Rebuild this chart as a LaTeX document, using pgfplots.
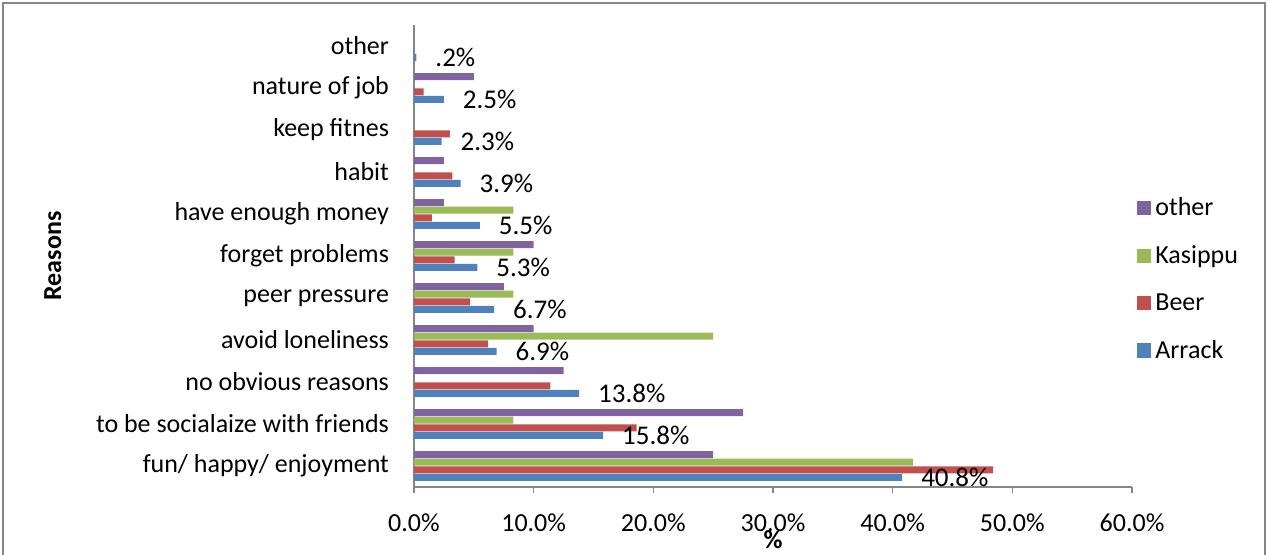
\documentclass[border=0pt]{standalone}
\usepackage{fontspec}
\setmainfont{Carlito}
\usepackage{pgfplots}
\pgfplotsset{compat=1.18}
\definecolor{cA}{HTML}{4F81BD}
\definecolor{cB}{HTML}{C0504D}
\definecolor{cK}{HTML}{9BBB59}
\definecolor{cO}{HTML}{8064A2}
\definecolor{axgray}{HTML}{868686}
\begin{document}
\begin{tikzpicture}
\useasboundingbox (0,0) rectangle (634pt,277pt);
\draw[axgray,line width=0.6pt] (1.5pt,-2pt) -- (1.5pt,275.5pt) -- (632.5pt,275.5pt) -- (632.5pt,-2pt);
\begin{axis}[
  at={(207pt,33.5pt)}, anchor=south west,
  scale only axis, width=359pt, height=231pt,
  xbar, bar width=3.5pt,
  xmin=0, xmax=60, ymin=-0.5, ymax=10.5,
  axis lines=left, axis line style={-, axgray, line width=0.6pt},
  every tick/.style={axgray, line width=0.6pt},
  tick align=outside,
  xtick={0,10,20,30,40,50,60},
  xticklabels={0.0\%,10.0\%,20.0\%,30.0\%,40.0\%,50.0\%,60.0\%},
  major tick length=3pt,
  ytick={0,1,2,3,4,5,6,7,8,9,10},
  yticklabels={fun/ happy/ enjoyment, to be socialaize with friends, no obvious reasons, avoid loneliness, peer pressure, forget problems, have enough money, habit, keep fitnes, nature of job, other},
  y tick style={draw=none},
  minor ytick={-0.5,0.5,...,10.5},
  minor y tick style={axgray},
  minor tick length=3pt,
  yticklabel style={anchor=east, xshift=-6pt, font=\fontsize{13}{15}\selectfont},
  xticklabel style={yshift=-7pt, font=\fontsize{13}{15}\selectfont},
  xlabel={\textbf{\%}},
  xlabel style={at={(axis description cs:0.5,-0.115)}, anchor=center, font=\fontsize{13}{15}\selectfont},
  ylabel={\textbf{Reasons}},
  ylabel style={at={(axis description cs:-0.503,0.5)}, anchor=center, font=\fontsize{13}{15}\selectfont},
  legend style={at={(axis description cs:0.998,0.645)}, anchor=north west, draw=none, fill=none,
    font=\fontsize{13}{15}\selectfont, row sep=9.5pt, cells={anchor=west},
    /tikz/every odd column/.append style={xshift=0pt}},
  reverse legend,
  legend image code/.code={\fill[#1] (0pt,-3.6pt) rectangle (7.2pt,3.6pt);},
  clip=false,
]
\addplot[fill=cA, draw=none, bar shift=-5.7pt,
  point meta=explicit symbolic, nodes near coords,
  every node near coord/.append style={anchor=west, xshift=6pt, text=black, font=\fontsize{13.5}{15}\selectfont}]
  coordinates {(40.8,0) [40.8\%] (15.8,1) [15.8\%] (13.8,2) [13.8\%] (6.9,3) [6.9\%] (6.7,4) [6.7\%] (5.3,5) [5.3\%] (5.5,6) [5.5\%] (3.9,7) [3.9\%] (2.3,8) [2.3\%] (2.5,9) [2.5\%] (0.2,10) [.2\%]};
\addlegendentry{Arrack}
\addplot[fill=cB, draw=none, bar shift=-1.9pt]
  coordinates {(48.4,0) (18.6,1) (11.4,2) (6.2,3) (4.7,4) (3.4,5) (1.5,6) (3.2,7) (3.0,8) (0.8,9) (0,10)};
\addlegendentry{Beer}
\addplot[fill=cK, draw=none, bar shift=1.9pt]
  coordinates {(41.7,0) (8.3,1) (0,2) (25,3) (8.3,4) (8.3,5) (8.3,6) (0,7) (0,8) (0,9) (0,10)};
\addlegendentry{Kasippu}
\addplot[fill=cO, draw=none, bar shift=5.7pt]
  coordinates {(25,0) (27.5,1) (12.5,2) (10,3) (7.5,4) (10,5) (2.5,6) (2.5,7) (0,8) (5,9) (0,10)};
\addlegendentry{other}
\end{axis}
\end{tikzpicture}
\end{document}
